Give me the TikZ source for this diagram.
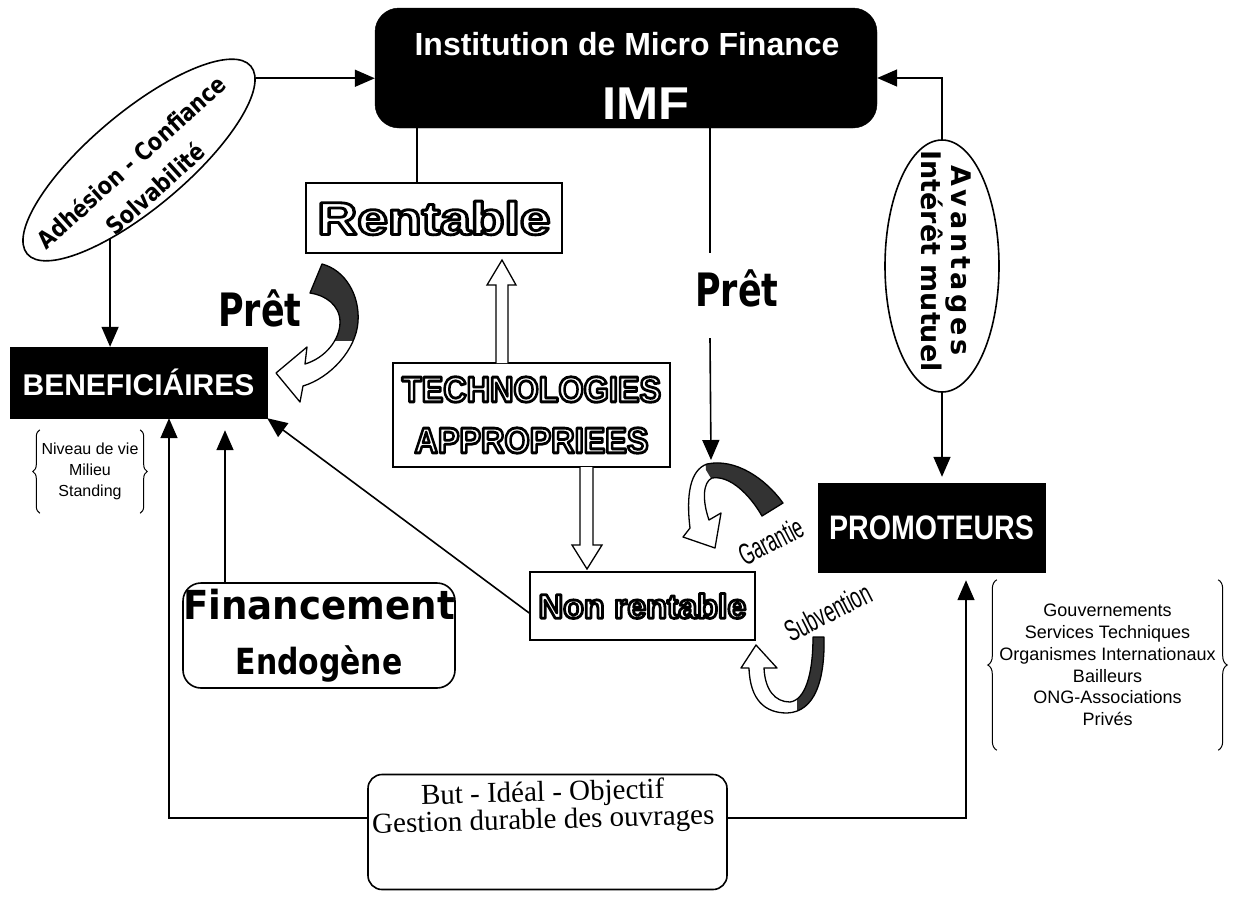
\documentclass[tikz,border=0pt]{standalone}
\usepackage{fontspec}
\setmainfont{Liberation Serif}
\newfontfamily\arialf{Liberation Sans}
\newfontfamily\dejaf{DejaVu Sans}
\usepackage{graphicx}
\usetikzlibrary{shapes.geometric,arrows.meta,decorations.pathreplacing,calc}
\newcommand\fsz[2]{\fontsize{#1}{#2}\selectfont}
% hollow (outlined) letters: white fill, black stroke, drawn once
\newcommand\hol[1]{{\color{white}\special{pdf:literal direct 2 Tr 2.8 w 0 G 1 j}#1\special{pdf:literal direct 0 Tr}}}
\newcommand\pretP{(322,264) .. controls (345,270) and (360,295) .. (358,322) .. controls (356,350) and (330,378) .. (303,386) -- (300,402) -- (276,373) -- (307,347) -- (305,364) .. controls (325,358) and (340,340) .. (340,322) .. controls (340,305) and (325,295) .. (310,293) -- cycle}
\newcommand\garP{(783,503) .. controls (765,478) and (735,458) .. (707,464) .. controls (690,470) and (686,495) .. (690,528) -- (683,537) -- (715,548) -- (721,513) -- (709,520) .. controls (702,500) and (703,482) .. (712,478) .. controls (730,475) and (750,495) .. (762,516) -- cycle}
\newcommand\subP{(824,637) .. controls (825,680) and (815,712) .. (787,713) .. controls (765,713) and (750,700) .. (749,668) -- (741,668) -- (756,645) -- (777,668) -- (764,668) .. controls (765,690) and (775,702) .. (790,702) .. controls (805,700) and (813,675) .. (813,637) -- cycle}
\begin{document}
\begin{tikzpicture}[x=1pt,y=-1pt,
  conn/.style={line width=1.6pt},
  arr/.style={line width=1.6pt,-{Triangle[length=20pt,width=17pt]}},
  bbox/.style={fill=black,draw=black,inner sep=0pt,text=white},
  wbox/.style={draw=black,line width=1.6pt,fill=white,inner sep=0pt},
  hollow/.style={draw=black,line width=1.3pt,fill=white,line join=miter},
  ribbon/.style={draw=black,line width=1.3pt,line join=round},
  dark/.style={fill=black!80},
  brc/.style={decorate,decoration={brace,amplitude=7pt},line width=1pt},
  lbl/.style={inner sep=0pt}]
\useasboundingbox (0,0) rectangle (1239,898);
\fill[white] (0,0) rectangle (1239,898);

% helper coordinates
\coordinate (x417) at (417,0);
\coordinate (x710) at (710,0);
\coordinate (x225) at (225,0);
\coordinate (x169) at (169,0);
\coordinate (x966) at (966,0);
\coordinate (y78) at (0,78);
\coordinate (y613) at (0,613);
\coordinate (y818) at (0,818);
\coordinate (p2a) at (710,253);
\coordinate (p2b) at (710,338);
\coordinate (gtip) at (711,460);

% IMF
\node[bbox,rounded corners=24pt,minimum width=502pt,minimum height=120pt] (imf) at (626,68) {};
\node[lbl,text=white,font=\arialf\bfseries\fsz{32}{36}] (imft1) at (627,44) {Institution de Micro Finance};
\node[lbl,text=white,font=\arialf\bfseries\fsz{46}{50}] (imft2) at (646,104) {\scalebox{1.1}[1]{IMF}};

% left ellipse
\node[draw,ellipse,line width=1.6pt,rotate=40,minimum width=292pt,minimum height=96pt,inner sep=0pt] (adh) at (139,160) {};
\node[lbl,rotate=42,align=center,font=\dejaf\bfseries\fsz{24}{36}] (adht) at (143,175) {\scalebox{0.86}[1]{Adhésion - Confiance}\\\scalebox{0.86}[1]{Solvabilité}};

% boxes
\node[bbox,minimum width=257pt,minimum height=71pt,font=\arialf\bfseries\fsz{30}{34}] (benef) at (138.5,382.5) {BENEFICIÁIRES};
\node[lbl,minimum width=100pt,minimum height=83pt,align=center,font=\arialf\fsz{16}{21}] (niv) at (90,471.5) {Niveau de vie\\Milieu\\Standing};
\draw[brc] (niv.south west) -- (niv.north west);
\draw[brc] (niv.north east) -- (niv.south east);

\node[wbox,minimum width=256pt,minimum height=70pt,font=\arialf\bfseries\fsz{46}{50}] (rent) at (434,218) {\scalebox{1.2}[1]{\hol{Rentable}}};
\node[wbox,minimum width=277pt,minimum height=104pt,align=center,font=\arialf\bfseries\fsz{36}{51}] (tech) at (531.5,415) {\scalebox{0.9}[1]{\hol{TECHNOLOGIES}}\\\scalebox{0.9}[1]{\hol{APPROPRIEES}}};
\node[wbox,minimum width=225pt,minimum height=68pt,font=\arialf\bfseries\fsz{34}{38}] (nonr) at (642.5,606) {\hol{Non rentable}};
\node[draw,line width=1.6pt,rounded corners=18pt,minimum width=272pt,minimum height=105pt,inner sep=0pt,align=center,font=\dejaf\bfseries\fsz{40}{55}] (fin) at (319,635.5) {\scalebox{0.93}[1]{Financement}\\\scalebox{0.83}[1]{\fsz{36}{55}Endogène}};
\node[draw,line width=1.6pt,rounded corners=14pt,minimum width=359pt,minimum height=115pt,inner sep=0pt] (but) at (547.5,832) {};
\node[lbl,align=center,font=\fsz{29}{25},rotate=1.5] (butt) at (543,808) {But - Idéal - Objectif\\Gestion durable des ouvrages};
\node[bbox,minimum width=227pt,minimum height=89pt,font=\arialf\bfseries\fsz{34}{38}] (prom) at (931.5,527.5) {\scalebox{0.84}[1]{PROMOTEURS}};

% right ellipse
\node[draw,ellipse,line width=1.6pt,rotate=-90,minimum width=252pt,minimum height=114pt,inner sep=0pt] (ell) at (942,266) {};
\node[lbl,rotate=-90,align=center,font=\dejaf\bfseries\fsz{27}{30}] (ellt) at (946,261) {{\addfontfeature{LetterSpace=14}Avantages}\\Intérêt mutuel};

% list
\node[lbl,minimum width=221pt,minimum height=170pt,align=center,font=\arialf\fsz{18}{21.7}] (lst) at (1107.5,665) {Gouvernements\\Services Techniques\\Organismes Internationaux\\Bailleurs\\ONG-Associations\\Privés};
\draw[brc,decoration={amplitude=9pt}] (lst.south west) -- (lst.north west);
\draw[brc,decoration={amplitude=9pt}] (lst.north east) -- (lst.south east);

% labels
\node[lbl,font=\dejaf\bfseries\fsz{46}{50}] (pret1) at (260,308) {\scalebox{0.76}[1]{Prêt}};
\node[lbl,font=\dejaf\bfseries\fsz{46}{50}] (pret2) at (737,288) {\scalebox{0.76}[1]{Prêt}};
\node[lbl,rotate=27,font=\arialf\fsz{30}{32}] (gar) at (771,541) {\scalebox{0.6}[1]{Garantie}};
\node[lbl,rotate=27,font=\arialf\fsz{30}{32}] (sub) at (828,612) {\scalebox{0.62}[1]{Subvention}};

% connectors
\draw[arr] (adh.355) -- (adh.355 -| imf.west);
\draw[arr] (adh.210) -- (adh.210 |- benef.north);
\draw[conn] (imf.south -| x417) -- (rent.north -| x417);
\draw[conn] (imf.south -| x710) -- (p2a);
\draw[arr] (p2b) -- (gtip);
\draw[arr] (ell.west) |- (imf.east |- y78);
\draw[arr] (ell.east) -- ($(prom.north -| ell.east)+(0,-6)$);
\draw[arr] (fin.north -| x225) -- ($(benef.south -| x225)+(0,12)$);
\draw[arr] (nonr.west |- y613) -- (benef.south east);
\draw[arr] (but.west |- y818) -| (benef.south -| x169);
\draw[arr] (but.east |- y818) -| ($(prom.south -| x966)+(0,8)$);

% hollow block arrows
\draw[hollow] (496,363) -- (496,285) -- (487,285) -- (502,260) -- (516,285) -- (508,285) -- (508,363);
\draw[hollow] (580,467) -- (580,545) -- (572,545) -- (587,569) -- (602,545) -- (593,545) -- (593,467);

% curved ribbon arrows
\fill[white] \pretP;
\begin{scope}\clip (280,250) rectangle (370,340); \fill[dark] \pretP; \end{scope}
\draw[ribbon] \pretP;

\fill[white] \garP;
\begin{scope}\clip (704,440) -- (800,440) -- (800,540) -- (760,530) -- (712,480) -- (706,470) -- cycle; \fill[dark] \garP; \end{scope}
\draw[ribbon] \garP;

\fill[white] \subP;
\begin{scope}\clip (797,625) rectangle (835,720); \fill[dark] \subP; \end{scope}
\draw[ribbon] \subP;
\end{tikzpicture}
\end{document}
